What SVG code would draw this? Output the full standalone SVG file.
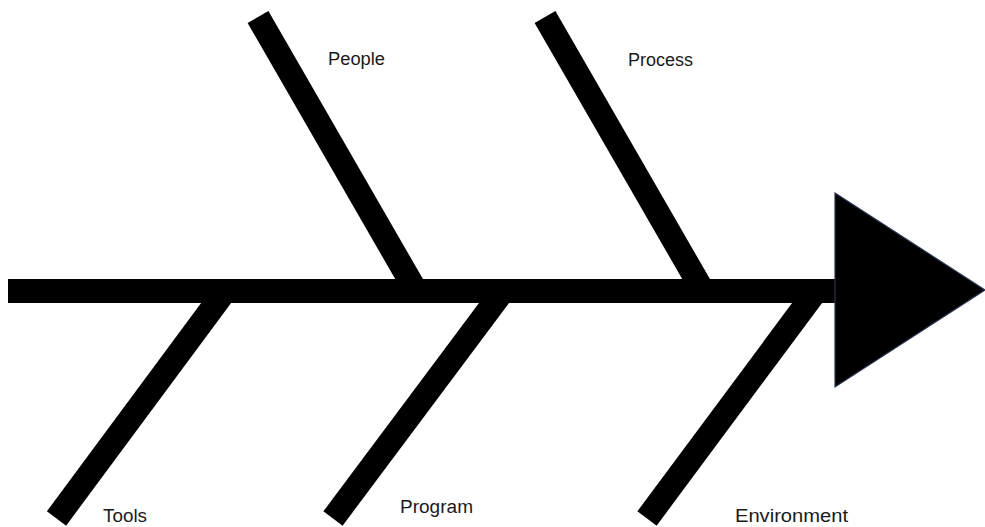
<svg xmlns="http://www.w3.org/2000/svg" width="985" height="527" viewBox="0 0 985 527">
  <style>
    .bone { stroke: #000; stroke-width: 24; stroke-linecap: butt; fill: none; }
    .lbl { font-family: "Liberation Sans", Arial, sans-serif; font-size: 18px; fill: #1a1a1a; }
  </style>
  <rect width="985" height="527" fill="#fff"/>
  <g id="connectors">
    <rect id="spine" x="8" y="279" width="828" height="24" fill="#000"/>
  </g>
  <g id="head">
    <polygon points="835,193 985,290 835,387" fill="#000" stroke="#2a3550" stroke-width="1.2"/>
  </g>
  <g id="people">
    <line class="bone" x1="258" y1="17" x2="416" y2="291"/>
    <text class="lbl" x="328" y="65" textLength="57" lengthAdjust="spacingAndGlyphs">People</text>
  </g>
  <g id="process">
    <line class="bone" x1="545" y1="17" x2="703" y2="291"/>
    <text class="lbl" x="628" y="66" textLength="65" lengthAdjust="spacingAndGlyphs">Process</text>
  </g>
  <g id="tools">
    <line class="bone" x1="225" y1="291" x2="56.5" y2="518.5"/>
    <text class="lbl" x="103" y="522" textLength="44" lengthAdjust="spacingAndGlyphs">Tools</text>
  </g>
  <g id="program">
    <line class="bone" x1="503" y1="291" x2="333" y2="518.5"/>
    <text class="lbl" x="400" y="513" textLength="73" lengthAdjust="spacingAndGlyphs">Program</text>
  </g>
  <g id="environment">
    <line class="bone" x1="816" y1="291" x2="647" y2="518.5"/>
    <text class="lbl" x="735" y="522" textLength="113" lengthAdjust="spacingAndGlyphs">Environment</text>
  </g>
</svg>
